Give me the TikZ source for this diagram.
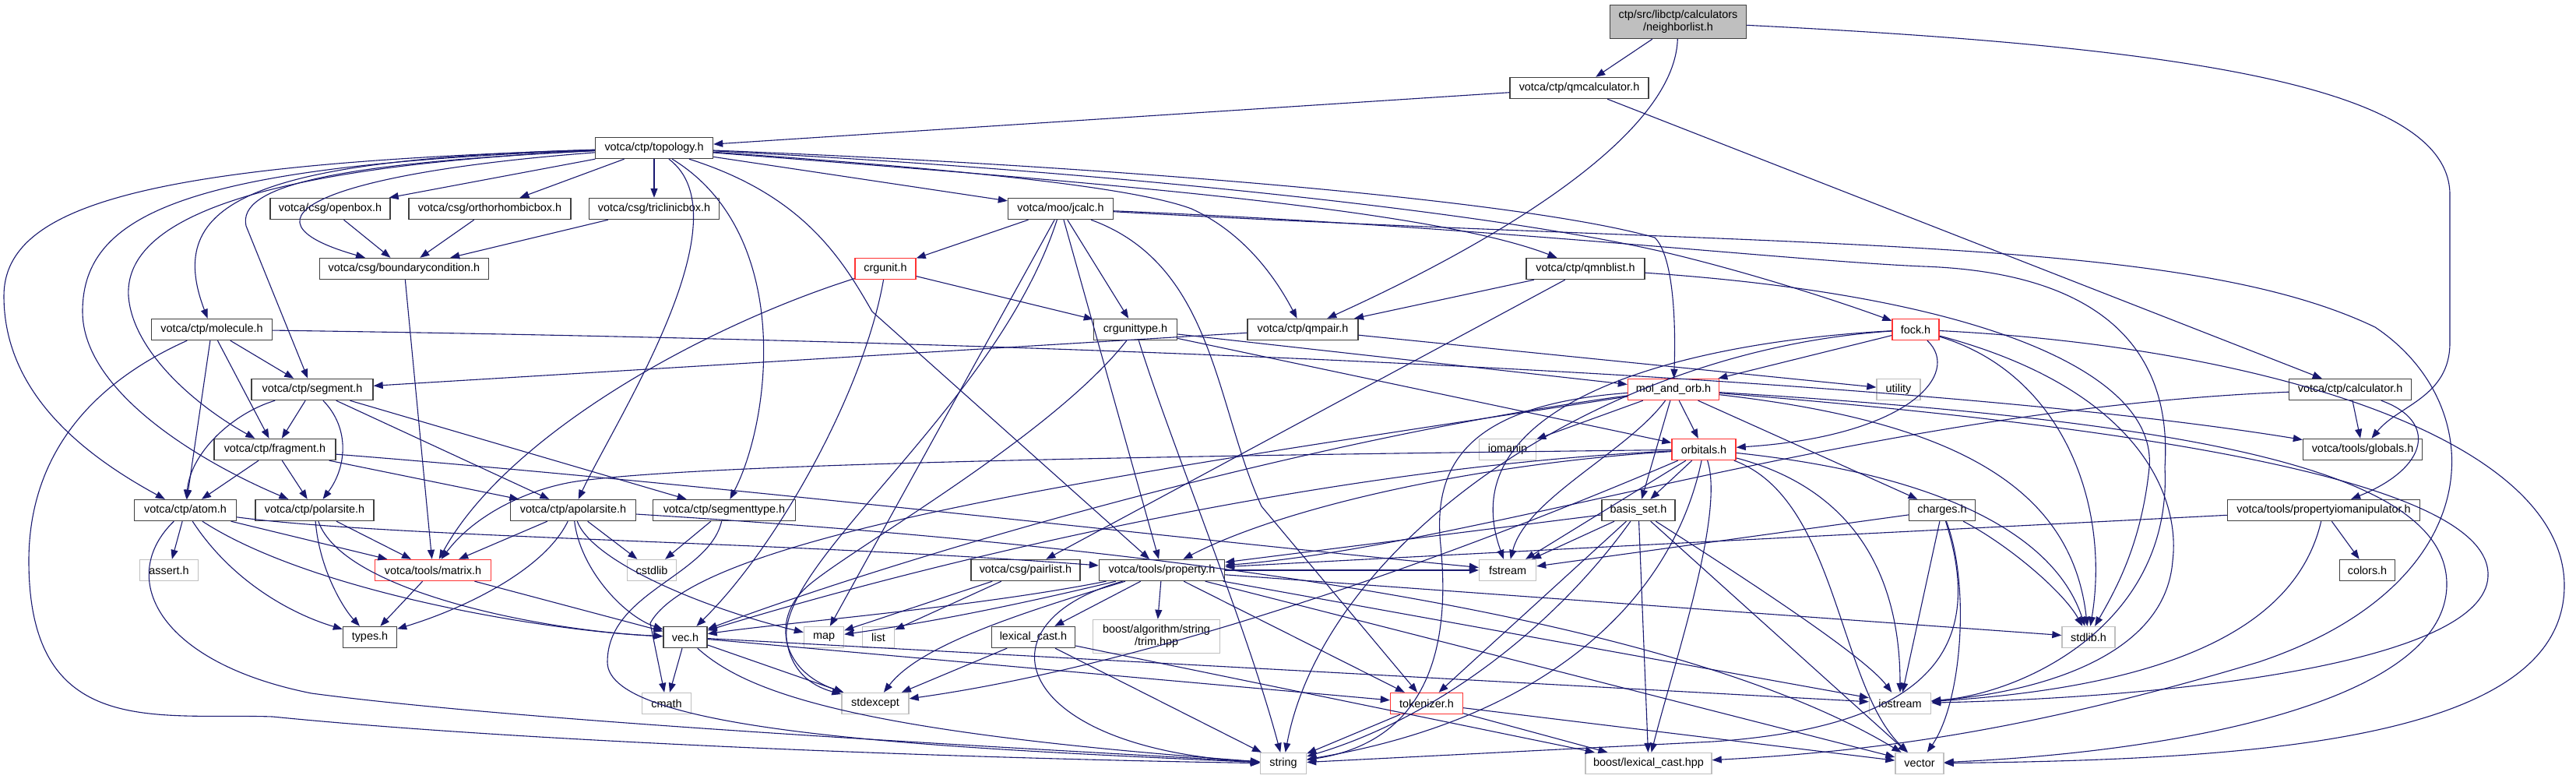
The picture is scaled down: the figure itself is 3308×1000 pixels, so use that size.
\documentclass[tikz,border=0pt]{standalone}
\usepackage{fontspec}
\newfontfamily\dfont{Liberation Sans}
\usetikzlibrary{arrows.meta}
\definecolor{navy}{HTML}{191970}
\definecolor{grayb}{HTML}{BFBFBF}
\definecolor{redb}{HTML}{FF3333}
\definecolor{rootfill}{HTML}{BFBFBF}
\tikzset{
  box/.style={draw=black!75, line width=1.4pt, fill=white, minimum height=27pt, inner sep=0pt, align=center, font=\dfont\fontsize{14.4}{16}\selectfont},
  sysbox/.style={box, draw=grayb},
  redbox/.style={box, draw=redb},
  rootbox/.style={box, fill=rootfill},
  e/.style={draw=navy, line width=1.1pt, -{Triangle[length=12pt,width=9pt]}}
}
\begin{document}
\begin{tikzpicture}[x=1pt,y=1pt]
\fill[white] (0,0) rectangle (3308,-1000);
\useasboundingbox (0,0) rectangle (3308,-1000);
% nodes
\node[rootbox, minimum width=175pt, minimum height=43pt] (nl) at (2155,-28) {ctp/src/libctp/calculators\\/neighborlist.h};
\node[box, minimum width=178pt] (qmcalc) at (2028,-113) {votca/ctp/qmcalculator.h};
\node[box, minimum width=151pt] (topo) at (840,-190) {votca/ctp/topology.h};
\node[box, minimum width=154pt] (openbox) at (424,-268) {votca/csg/openbox.h};
\node[box, minimum width=208pt] (ortho) at (629,-268) {votca/csg/orthorhombicbox.h};
\node[box, minimum width=167pt] (tricl) at (840,-268) {votca/csg/triclinicbox.h};
\node[box, minimum width=135pt] (jcalc) at (1362,-268) {votca/moo/jcalc.h};
\node[box, minimum width=217pt] (bc) at (519,-345) {votca/csg/boundarycondition.h};
\node[redbox, minimum width=78pt] (crgunit) at (1137,-345) {crgunit.h};
\node[box, minimum width=152pt] (qmnblist) at (2036,-345) {votca/ctp/qmnblist.h};
\node[box, minimum width=155pt] (molecule) at (272,-423) {votca/ctp/molecule.h};
\node[box, minimum width=107pt] (crgtype) at (1458,-423) {crgunittype.h};
\node[box, minimum width=142pt] (qmpair) at (1673,-423) {votca/ctp/qmpair.h};
\node[redbox, minimum width=60pt] (fock) at (2460,-423) {fock.h};
\node[box, minimum width=156pt] (segment) at (401,-500) {votca/ctp/segment.h};
\node[redbox, minimum width=117pt] (molorb) at (2149,-500) {mol\_and\_orb.h};
\node[sysbox, minimum width=56pt] (utility) at (2438,-500) {utility};
\node[box, minimum width=157pt] (calc) at (3018,-500) {votca/ctp/calculator.h};
\node[box, minimum width=156pt] (fragment) at (353,-577) {votca/ctp/fragment.h};
\node[sysbox, minimum width=73pt] (iomanip) at (1936,-577) {iomanip};
\node[redbox, minimum width=82pt] (orbitals) at (2188,-577) {orbitals.h};
\node[box, minimum width=153pt] (globals) at (3034,-577) {votca/tools/globals.h};
\node[box, minimum width=131pt] (atom) at (238,-655) {votca/ctp/atom.h};
\node[box, minimum width=152pt] (polarsite) at (404,-655) {votca/ctp/polarsite.h};
\node[box, minimum width=161pt] (apolarsite) at (736,-655) {votca/ctp/apolarsite.h};
\node[box, minimum width=183pt] (segtype) at (930,-655) {votca/ctp/segmenttype.h};
\node[box, minimum width=94pt] (basis) at (2104,-655) {basis\_set.h};
\node[box, minimum width=85pt] (charges) at (2494,-655) {charges.h};
\node[box, minimum width=247pt] (propio) at (2984,-655) {votca/tools/propertyiomanipulator.h};
\node[sysbox, minimum width=75pt] (assert) at (217,-732) {assert.h};
\node[redbox, minimum width=149pt] (matrix) at (556,-732) {votca/tools/matrix.h};
\node[sysbox, minimum width=63pt] (cstdlib) at (837,-732) {cstdlib};
\node[box, minimum width=140pt] (pairlist) at (1317,-732) {votca/csg/pairlist.h};
\node[box, minimum width=161pt] (property) at (1492,-732) {votca/tools/property.h};
\node[sysbox, minimum width=73pt] (fstream) at (1936,-732) {fstream};
\node[box, minimum width=71pt] (colors) at (3040,-732) {colors.h};
\node[box, minimum width=69pt] (types) at (475,-818) {types.h};
\node[box, minimum width=56pt] (vec) at (880,-818) {vec.h};
\node[sysbox, minimum width=51pt] (map) at (1058,-818) {map};
\node[sysbox, minimum width=41pt] (list) at (1128,-818) {list};
\node[box, minimum width=107pt] (lexcast) at (1327,-818) {lexical\_cast.h};
\node[sysbox, minimum width=163pt, minimum height=43pt] (trim) at (1485,-817) {boost/algorithm/string\\/trim.hpp};
\node[sysbox, minimum width=68pt] (stdlib) at (2682,-818) {stdlib.h};
\node[sysbox, minimum width=63pt] (cmath) at (856,-903) {cmath};
\node[sysbox, minimum width=86pt] (stdexcept) at (1124,-903) {stdexcept};
\node[redbox, minimum width=93pt] (tokenizer) at (1832,-903) {tokenizer.h};
\node[sysbox, minimum width=79pt] (iostream) at (2440,-903) {iostream};
\node[sysbox, minimum width=59pt] (string) at (1648,-980) {string};
\node[sysbox, minimum width=162pt] (blc) at (2117,-980) {boost/lexical\_cast.hpp};
\node[sysbox, minimum width=62pt] (vector) at (2465,-980) {vector};
% root
\draw[e] (nl) -- (qmcalc);
\draw[e] (nl) .. controls (2150,-180) and (1900,-320) .. (qmpair);
\draw[e] (nl) .. controls (2800,-60) and (3146,-110) .. (3146,-250) -- (3146,-440) .. controls (3146,-510) and (3080,-520) .. (globals);
\draw[e] (qmcalc) -- (topo);
\draw[e] (qmcalc) -- (calc);
% topology
\draw[e] (topo) -- (openbox);
\draw[e] (topo) -- (ortho);
\draw[e] (topo) -- (tricl);
\draw[e] (topo) -- (jcalc);
\draw[e] (topo) .. controls (420,-222) and (290,-280) .. (bc);
\draw[e] (topo) .. controls (420,-210) and (305,-240) .. (316,-290) -- (segment);
\draw[e] (topo) .. controls (320,-205) and (210,-260) .. (molecule);
\draw[e] (topo) .. controls (300,-215) and (160,-290) .. (165,-380) .. controls (170,-450) and (250,-520) .. (fragment);
\draw[e] (topo) .. controls (250,-212) and (106,-270) .. (106,-400) .. controls (106,-500) and (250,-590) .. (polarsite);
\draw[e] (topo) .. controls (200,-210) and (5,-260) .. (5,-380) .. controls (5,-500) and (100,-580) .. (atom);
\draw[e] (topo) .. controls (960,-280) and (790,-540) .. (apolarsite);
\draw[e] (topo) .. controls (1020,-300) and (990,-540) .. (segtype);
\draw[e] (topo) .. controls (1030,-250) and (1080,-330) .. (1120,-400) -- (property);
\draw[e] (topo) .. controls (1350,-230) and (1830,-265) .. (qmnblist);
\draw[e] (topo) .. controls (1200,-215) and (1450,-238) .. (1530,-268) .. controls (1600,-300) and (1640,-360) .. (qmpair);
\draw[e] (topo) .. controls (1400,-212) and (1950,-255) .. (2125,-305) .. controls (2150,-330) and (2152,-420) .. (molorb);
\draw[e] (topo) .. controls (1400,-218) and (1900,-270) .. (2130,-322) .. controls (2250,-350) and (2370,-390) .. (fock);
% csg
\draw[e] (openbox) -- (bc);
\draw[e] (ortho) -- (bc);
\draw[e] (tricl) -- (bc);
\draw[e] (bc) -- (matrix);
% jcalc
\draw[e] (jcalc) -- (crgunit);
\draw[e] (jcalc) -- (crgtype);
\draw[e] (jcalc) -- (map);
\draw[e] (jcalc) -- (property);
\draw[e] (jcalc) .. controls (1280,-520) and (1000,-720) .. (1010,-820) .. controls (1015,-860) and (1040,-880) .. (stdexcept);
\draw[e] (jcalc) .. controls (1560,-340) and (1560,-520) .. (1620,-650) -- (tokenizer);
\draw[e] (jcalc) .. controls (2300,-320) and (2800,-300) .. (3050,-420) .. controls (3200,-520) and (3200,-750) .. (2900,-850) .. controls (2600,-940) and (2400,-965) .. (blc);
\draw[e] (jcalc) .. controls (1900,-290) and (2300,-335) .. (2470,-342) .. controls (2700,-350) and (2790,-450) .. (2780,-600) .. controls (2790,-800) and (2600,-890) .. (iostream);
% crgunit
\draw[e] (crgunit) -- (crgtype);
\draw[e] (crgunit) .. controls (900,-420) and (650,-560) .. (matrix);
\draw[e] (crgunit) .. controls (1110,-500) and (1000,-700) .. (vec);
% crgunittype
\draw[e] (crgtype) -- (molorb);
\draw[e] (crgtype) -- (orbitals);
\draw[e] (crgtype) .. controls (1350,-560) and (1100,-700) .. (1040,-750) .. controls (990,-790) and (1000,-860) .. (stdexcept);
\draw[e] (crgtype) .. controls (1500,-560) and (1600,-800) .. (string);
% qmnblist
\draw[e] (qmnblist) -- (qmpair);
\draw[e] (qmnblist) -- (pairlist);
\draw[e] (qmnblist) .. controls (2550,-380) and (2770,-480) .. (2760,-600) .. controls (2750,-700) and (2715,-760) .. (stdlib);
% qmpair
\draw[e] (qmpair) -- (segment);
\draw[e] (qmpair) -- (utility);
% molecule
\draw[e] (molecule) -- (segment);
\draw[e] (molecule) -- (atom);
\draw[e] (molecule) -- (fragment);
\draw[e] (molecule) .. controls (100,-500) and (37,-600) .. (37,-720) .. controls (37,-950) and (200,-915) .. (350,-920) .. controls (700,-955) and (1300,-975) .. (string);
\draw[e] (molecule) .. controls (1500,-440) and (2500,-490) .. (globals);
% segment
\draw[e] (segment) -- (fragment);
\draw[e] (segment) .. controls (300,-530) and (245,-580) .. (atom);
\draw[e] (segment) .. controls (450,-550) and (445,-600) .. (polarsite);
\draw[e] (segment) -- (apolarsite);
\draw[e] (segment) -- (segtype);
% fragment
\draw[e] (fragment) -- (atom);
\draw[e] (fragment) -- (polarsite);
\draw[e] (fragment) -- (apolarsite);
\draw[e] (fragment) .. controls (900,-620) and (1500,-690) .. (fstream);
% atom
\draw[e] (atom) -- (assert);
\draw[e] (atom) -- (matrix);
\draw[e] (atom) .. controls (300,-750) and (380,-790) .. (types);
\draw[e] (atom) .. controls (400,-760) and (700,-810) .. (vec);
\draw[e] (atom) .. controls (500,-690) and (1000,-695) .. (property);
\draw[e] (atom) .. controls (150,-740) and (200,-850) .. (400,-890) .. controls (700,-930) and (1400,-965) .. (string);
% polarsite
\draw[e] (polarsite) -- (matrix);
\draw[e] (polarsite) .. controls (410,-730) and (440,-780) .. (types);
\draw[e] (polarsite) .. controls (440,-760) and (700,-810) .. (vec);
% apolarsite
\draw[e] (apolarsite) -- (matrix);
\draw[e] (apolarsite) .. controls (700,-730) and (600,-780) .. (types);
\draw[e] (apolarsite) .. controls (745,-730) and (800,-790) .. (vec);
\draw[e] (apolarsite) .. controls (760,-720) and (900,-780) .. (map);
\draw[e] (apolarsite) -- (cstdlib);
\draw[e] (apolarsite) .. controls (1300,-690) and (2100,-760) .. (vector);
% segmenttype
\draw[e] (segtype) -- (cstdlib);
\draw[e] (segtype) .. controls (910,-740) and (780,-760) .. (780,-850) .. controls (780,-940) and (1200,-960) .. (string);
% matrix
\draw[e] (matrix) -- (types);
\draw[e] (matrix) -- (vec);
% vec
\draw[e] (vec) -- (cmath);
\draw[e] (vec) -- (stdexcept);
\draw[e] (vec) .. controls (960,-890) and (1100,-940) .. (string);
\draw[e] (vec) -- (tokenizer);
\draw[e] (vec) -- (iostream);
% pairlist
\draw[e] (pairlist) -- (map);
\draw[e] (pairlist) -- (list);
% property
\draw[e] (property) -- (trim);
\draw[e] (property) -- (lexcast);
\draw[e] (property) .. controls (1250,-790) and (1150,-805) .. (map);
\draw[e] (property) .. controls (1250,-780) and (1000,-800) .. (vec);
\draw[e] (property) .. controls (1300,-790) and (1180,-830) .. (stdexcept);
\draw[e] (property) .. controls (1250,-800) and (1300,-960) .. (string);
\draw[e] (property) -- (tokenizer);
\draw[e] (property) -- (fstream);
\draw[e] (property) -- (stdlib);
\draw[e] (property) -- (iostream);
\draw[e] (property) -- (vector);
% lexical_cast
\draw[e] (lexcast) -- (stdexcept);
\draw[e] (lexcast) -- (string);
\draw[e] (lexcast) -- (blc);
% tokenizer
\draw[e] (tokenizer) -- (string);
\draw[e] (tokenizer) -- (blc);
\draw[e] (tokenizer) -- (vector);
% mol_and_orb
\draw[e] (molorb) -- (iomanip);
\draw[e] (molorb) .. controls (2090,-580) and (1960,-640) .. (fstream);
\draw[e] (molorb) -- (basis);
\draw[e] (molorb) -- (orbitals);
\draw[e] (molorb) -- (charges);
\draw[e] (molorb) .. controls (1700,-560) and (1200,-700) .. (vec);
\draw[e] (molorb) .. controls (1500,-600) and (900,-680) .. (835,-800) -- (cmath);
\draw[e] (molorb) .. controls (1880,-520) and (1840,-600) .. (1850,-700) .. controls (1870,-900) and (1780,-960) .. (string);
\draw[e] (molorb) .. controls (2500,-540) and (2660,-620) .. (stdlib);
\draw[e] (molorb) .. controls (2800,-540) and (3142,-600) .. (3142,-750) .. controls (3142,-900) and (2800,-965) .. (vector);
\draw[e] (molorb) .. controls (2900,-560) and (3200,-640) .. (3195,-740) .. controls (3190,-850) and (2800,-895) .. (iostream);
% fock
\draw[e] (fock) -- (molorb);
\draw[e] (fock) .. controls (2520,-480) and (2450,-560) .. (orbitals);
\draw[e] (fock) .. controls (2150,-440) and (1860,-520) .. (fstream);
\draw[e] (fock) .. controls (2050,-450) and (1700,-700) .. (string);
\draw[e] (fock) .. controls (2650,-480) and (2710,-650) .. (stdlib);
\draw[e] (fock) .. controls (2750,-500) and (2800,-640) .. (2790,-720) .. controls (2780,-850) and (2600,-890) .. (iostream);
\draw[e] (fock) .. controls (2900,-445) and (3290,-560) .. (3293,-750) .. controls (3295,-950) and (2900,-975) .. (vector);
% orbitals
\draw[e] (orbitals) -- (basis);
\draw[e] (orbitals) -- (fstream);
\draw[e] (orbitals) .. controls (2150,-760) and (2000,-920) .. (string);
\draw[e] (orbitals) .. controls (2215,-660) and (2150,-850) .. (blc);
\draw[e] (orbitals) .. controls (2360,-640) and (2360,-880) .. (vector);
\draw[e] (orbitals) .. controls (2390,-630) and (2440,-750) .. (iostream);
\draw[e] (orbitals) .. controls (2500,-610) and (2640,-690) .. (stdlib);
\draw[e] (orbitals) .. controls (1500,-585) and (900,-595) .. (740,-618) .. controls (680,-627) and (610,-660) .. (matrix);
\draw[e] (orbitals) .. controls (1900,-595) and (1650,-650) .. (property);
\draw[e] (orbitals) .. controls (1900,-700) and (1500,-850) .. (stdexcept);
\draw[e] (orbitals) .. controls (1700,-600) and (1200,-720) .. (vec);
% basis_set
\draw[e] (basis) -- (fstream);
\draw[e] (basis) -- (tokenizer);
\draw[e] (basis) .. controls (2000,-800) and (1850,-920) .. (string);
\draw[e] (basis) -- (blc);
\draw[e] (basis) -- (vector);
\draw[e] (basis) .. controls (2300,-780) and (2400,-850) .. (iostream);
\draw[e] (basis) -- (property);
% charges
\draw[e] (charges) -- (fstream);
\draw[e] (charges) -- (iostream);
\draw[e] (charges) .. controls (2530,-750) and (2520,-900) .. (vector);
\draw[e] (charges) .. controls (2580,-700) and (2650,-760) .. (stdlib);
\draw[e] (charges) .. controls (2540,-800) and (2520,-930) .. (2200,-952) -- (string);
% propertyiomanipulator
\draw[e] (propio) .. controls (2300,-690) and (1900,-710) .. (property);
\draw[e] (propio) -- (colors);
\draw[e] (propio) .. controls (2950,-800) and (2800,-880) .. (iostream);
% calculator
\draw[e] (calc) -- (globals);
\draw[e] (calc) .. controls (3130,-540) and (3120,-600) .. (propio);
\draw[e] (calc) .. controls (2400,-525) and (1900,-700) .. (property);
\end{tikzpicture}
\end{document}
